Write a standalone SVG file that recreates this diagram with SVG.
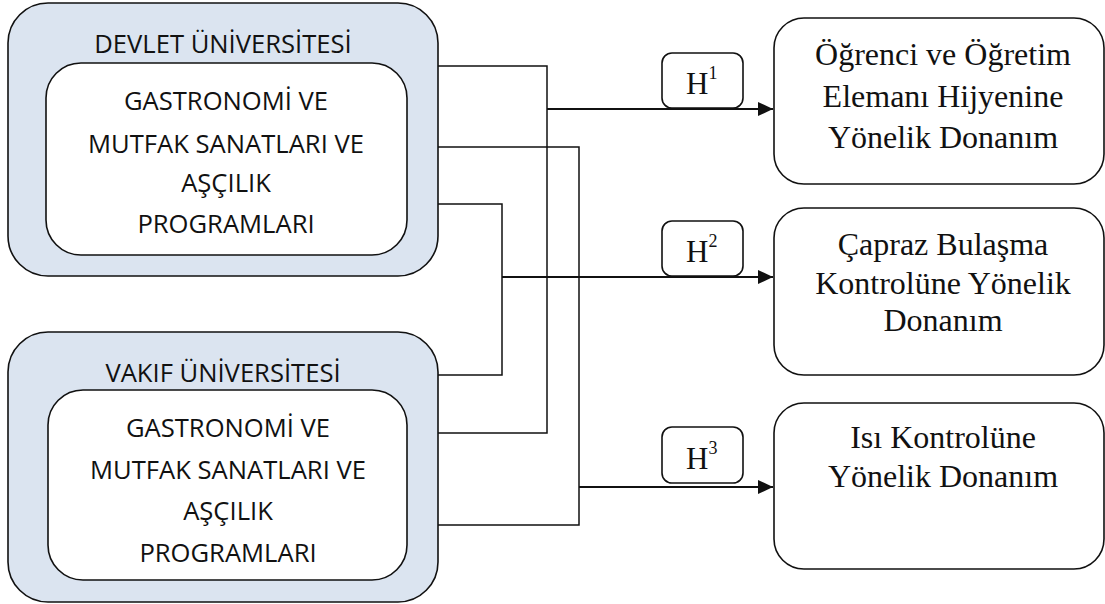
<svg xmlns="http://www.w3.org/2000/svg" width="1105" height="604" viewBox="0 0 1105 604">
<style>
.outer{fill:#dbe4f0;stroke:#111;stroke-width:1.6}
.inner{fill:#fff;stroke:#111;stroke-width:1.6}
.rbox{fill:#fff;stroke:#111;stroke-width:1.6}
.hbox{fill:#fff;stroke:#111;stroke-width:1.6}
.sans{font-family:"Open Sans","Liberation Sans",sans-serif;font-size:25.6px;fill:#111;text-anchor:middle}
.serif{font-family:"Liberation Serif","Times New Roman",serif;font-size:32px;fill:#111;text-anchor:middle}
.h{font-family:"Liberation Serif","Times New Roman",serif;font-size:31px;fill:#111}
.sup{font-size:18px}
.conn{fill:none;stroke:#111;stroke-width:1.5}
.arr{fill:none;stroke:#111;stroke-width:2.2}
</style>
<defs>
<marker id="ah" markerWidth="15" markerHeight="14" refX="15" refY="7" orient="auto" markerUnits="userSpaceOnUse">
<path d="M0,0 L15,7 L0,14 Z" fill="#111"/>
</marker>
</defs>

<g id="devlet">
<rect class="outer" x="8" y="3" width="430" height="273" rx="40"/>
<text class="sans" x="223" y="53">DEVLET ÜNİVERSİTESİ</text>
<rect class="inner" x="46" y="63" width="361" height="192" rx="35"/>
<text class="sans" x="226" y="110">GASTRONOMİ VE</text>
<text class="sans" x="226" y="153">MUTFAK SANATLARI VE</text>
<text class="sans" x="226" y="192">AŞÇILIK</text>
<text class="sans" x="226" y="233">PROGRAMLARI</text>
</g>

<g id="vakif">
<rect class="outer" x="8" y="332" width="430" height="270" rx="40"/>
<text class="sans" x="223" y="382">VAKIF ÜNİVERSİTESİ</text>
<rect class="inner" x="48" y="390" width="359" height="190" rx="35"/>
<text class="sans" x="228" y="437">GASTRONOMİ VE</text>
<text class="sans" x="228" y="479">MUTFAK SANATLARI VE</text>
<text class="sans" x="228" y="520">AŞÇILIK</text>
<text class="sans" x="228" y="562">PROGRAMLARI</text>
</g>

<g id="connectors">
<polyline class="conn" points="438,66 547,66 547,433 438,433"/>
<polyline class="conn" points="438,204 502,204 502,375 438,375"/>
<polyline class="conn" points="438,147 579,147 579,525 438,525"/>
<line class="arr" x1="547" y1="109" x2="773" y2="109" marker-end="url(#ah)"/>
<line class="arr" x1="502" y1="277" x2="773" y2="277" marker-end="url(#ah)"/>
<line class="arr" x1="579" y1="487" x2="773" y2="487" marker-end="url(#ah)"/>
</g>

<g id="h1">
<rect class="hbox" x="662" y="53" width="81" height="55" rx="10"/>
<text class="h" x="686" y="94">H<tspan class="sup" dy="-15">1</tspan></text>
</g>
<g id="h2">
<rect class="hbox" x="662" y="221" width="81" height="55" rx="10"/>
<text class="h" x="686" y="262">H<tspan class="sup" dy="-15">2</tspan></text>
</g>
<g id="h3">
<rect class="hbox" x="662" y="427" width="81" height="56" rx="10"/>
<text class="h" x="686" y="469">H<tspan class="sup" dy="-15">3</tspan></text>
</g>

<g id="box1">
<rect class="rbox" x="774" y="18" width="330" height="166" rx="30"/>
<text class="serif" x="943" y="65">Öğrenci ve Öğretim</text>
<text class="serif" x="943" y="107">Elemanı Hijyenine</text>
<text class="serif" x="943" y="148">Yönelik Donanım</text>
</g>
<g id="box2">
<rect class="rbox" x="774" y="208" width="330" height="167" rx="30"/>
<text class="serif" x="943" y="255">Çapraz Bulaşma</text>
<text class="serif" x="943" y="294">Kontrolüne Yönelik</text>
<text class="serif" x="943" y="331">Donanım</text>
</g>
<g id="box3">
<rect class="rbox" x="774" y="403" width="330" height="166" rx="30"/>
<text class="serif" x="943" y="448">Isı Kontrolüne</text>
<text class="serif" x="943" y="487">Yönelik Donanım</text>
</g>
</svg>
